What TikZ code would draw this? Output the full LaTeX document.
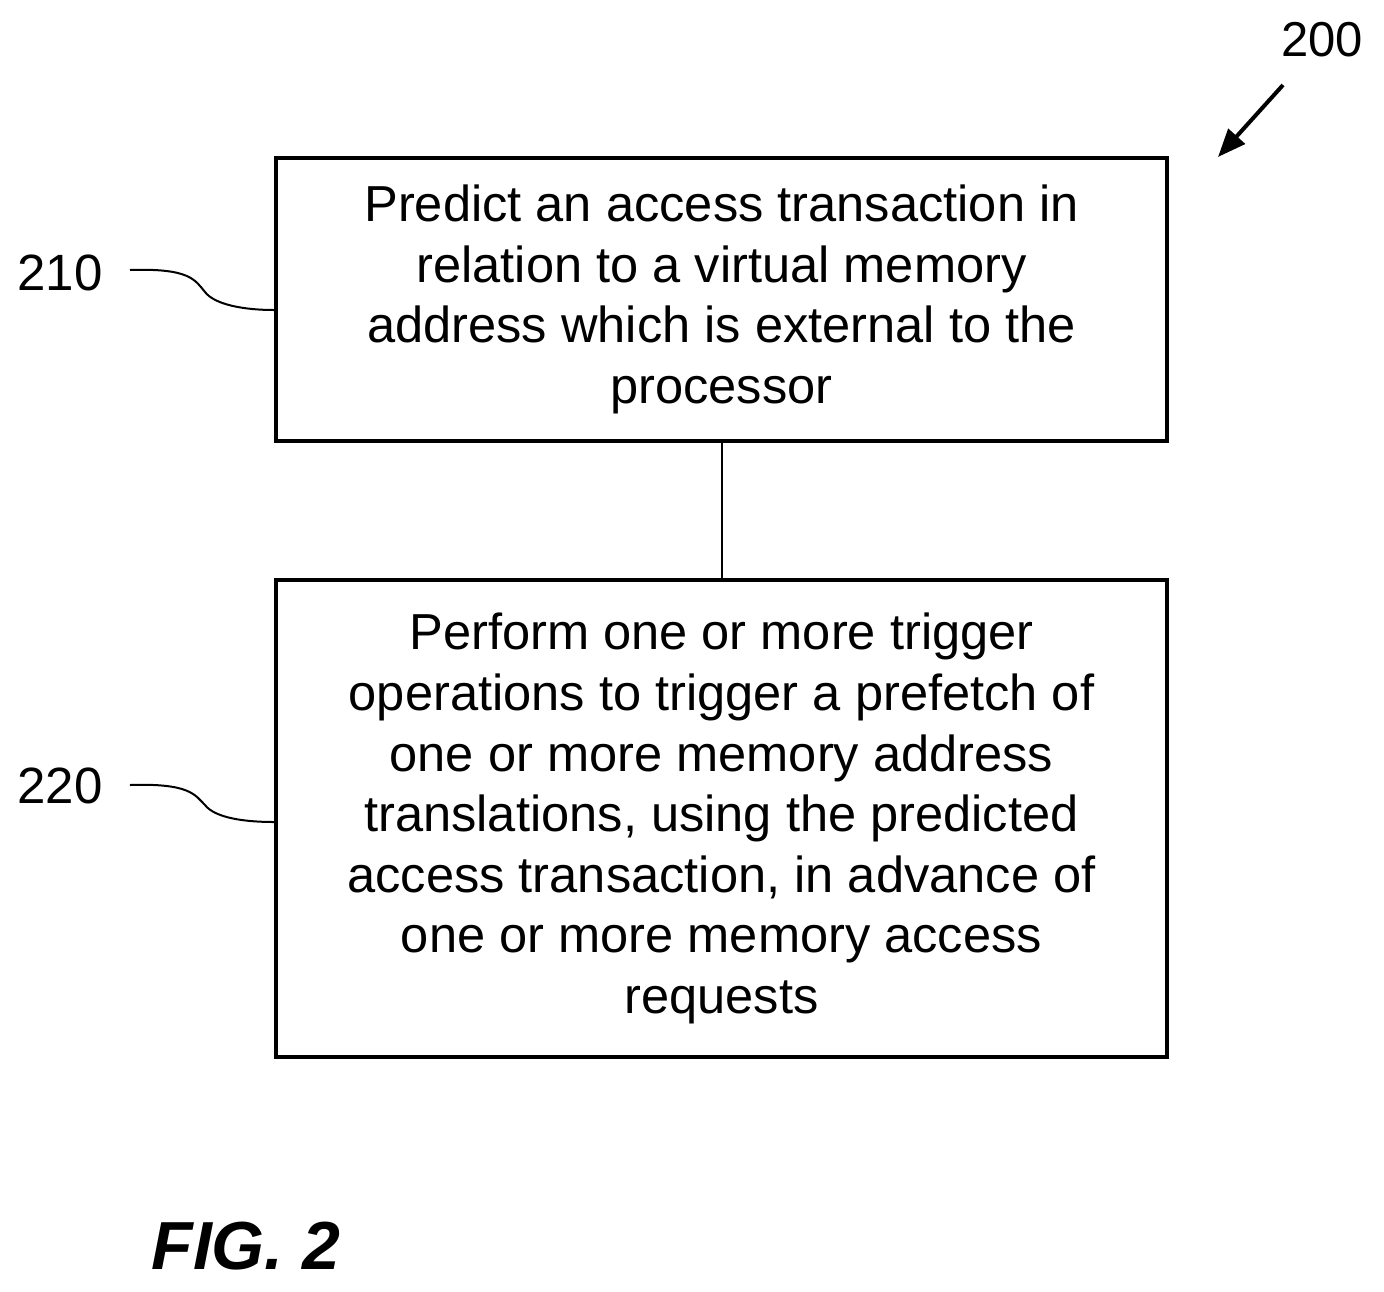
\documentclass[tikz,border=0pt]{standalone}
\usepackage{fontspec}
\setmainfont{Liberation Sans}
\usetikzlibrary{arrows.meta}
\begin{document}
\begin{tikzpicture}[x=0.5pt,y=-0.5pt,
 box/.style={draw,line width=2pt,minimum width=445.5pt,align=center,font=\fontsize{25.3}{30.3}\selectfont,inner sep=0pt},
 lab/.style={font=\fontsize{25.5}{28}\selectfont,inner sep=0pt},
 lead/.style={line width=1pt}]
\useasboundingbox (0,0) rectangle (1384,1291);
\node[box,minimum height=141.5pt] (b1) at (721.5,299.5) {Predict an access transaction in\\relation to a virtual memory\\address which is external to the\\processor};
\node[box,minimum height=238.5pt] (b2) at (721.5,818.5) {Perform one or more trigger\\operations to trigger a prefetch of\\one or more memory address\\translations, using the predicted\\access transaction, in advance of\\one or more memory access\\requests};
\draw[line width=1pt] (b1.south) -- (b2.north);
\node[lab] (l210) at (60,273) {210};
\node[lab] (l220) at (60,786) {220};
\node[lab,font=\fontsize{24.5}{28}\selectfont] (l200) at (1322,40) {200};
\coordinate (c1) at (b1.west|-0,310);
\coordinate (c2) at (b2.west|-0,822);
\draw[lead] (130,270) .. controls (190,268) and (195,280) .. (205,292) .. controls (215,305) and (245,310) .. (c1);
\draw[lead] (130,785) .. controls (190,783) and (195,795) .. (205,805) .. controls (215,818) and (245,822) .. (c2);
\coordinate (a0) at (1283,85);
\coordinate (a1) at (1218,157);
\draw[line width=2pt,-{Triangle[length=14pt,width=11pt]}] (a0) -- (a1);
\node[font=\fontsize{34}{34}\selectfont\bfseries\itshape,inner sep=0pt] (fig) at (246,1246) {FIG. 2};
\end{tikzpicture}
\end{document}
